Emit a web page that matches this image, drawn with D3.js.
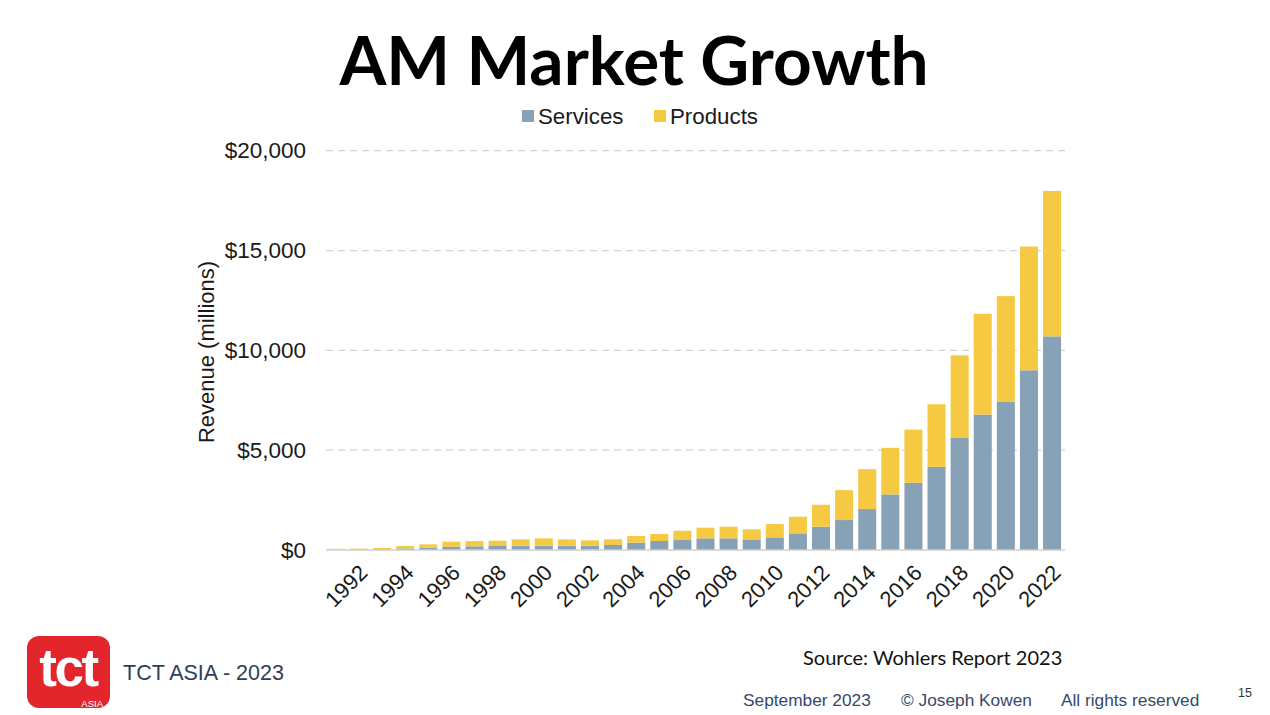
<!DOCTYPE html>
<html>
<head>
<meta charset="utf-8">
<script src="https://cdn.jsdelivr.net/npm/d3@7"></script>
<style>
  html, body { margin: 0; padding: 0; background: #ffffff; }
  svg { display: block; }
</style>
</head>
<body>
<svg id="chart" width="1270" height="715"></svg>
<script>
// ---- data ----
const years = d3.range(1991, 2023).map(String);
const services = [20, 25, 40, 80, 117, 167, 183, 200, 217, 217, 217, 217, 250, 367, 450, 500,
                  583, 583, 500, 633, 833, 1167, 1500, 2050, 2783, 3367, 4167, 5633, 6783, 7417, 9000, 10700];
const products = [40, 45, 60, 120, 165, 250, 265, 265, 315, 365, 315, 265, 285, 335, 350, 465,
                  535, 585, 535, 665, 835, 1100, 1500, 2000, 2335, 2665, 3135, 4115, 5050, 5300, 6200, 7285];
const seriesNames = ["Services", "Products"];
const yTicks = [0, 5000, 10000, 15000, 20000];
const xTickLabels = years.filter(y => +y % 2 === 0);

const colors = { Services: "#87a1b6", Products: "#f5ca42" };

const svg = d3.select("#chart");

// ---- title ----
svg.append("text")
  .attr("x", 634).attr("y", 85)
  .attr("text-anchor", "middle")
  .attr("font-family", "Lato, 'Open Sans', sans-serif")
  .attr("font-weight", 700)
  .attr("font-size", 67.5)
  .attr("fill", "#000")
  .text("AM Market Growth");

// ---- scales ----
const x = d3.scaleBand().domain(years).range([324.3, 1063.6]).paddingInner(0.22).paddingOuter(0.11);
const y = d3.scaleLinear().domain([0, 20000]).range([550, 150.7]);

const table = years.map((yr, i) => ({ year: yr, Services: services[i], Products: products[i] }));
const stacked = d3.stack().keys(seriesNames)(table);

// ---- gridlines ----
svg.append("g")
  .selectAll("line")
  .data(yTicks.filter(d => d > 0))
  .join("line")
  .attr("x1", 326).attr("x2", 1065)
  .attr("y1", d => y(d)).attr("y2", d => y(d))
  .attr("stroke", "#d3d3d3")
  .attr("stroke-width", 1.2)
  .attr("stroke-dasharray", "7,5");

// ---- bars ----
svg.append("g")
  .selectAll("g")
  .data(stacked)
  .join("g")
  .attr("fill", d => colors[d.key])
  .selectAll("rect")
  .data(d => d)
  .join("rect")
  .attr("x", d => x(d.data.year))
  .attr("width", x.bandwidth())
  .attr("y", d => y(d[1]))
  .attr("height", d => y(d[0]) - y(d[1]));

// ---- baseline ----
svg.append("line")
  .attr("x1", 326).attr("x2", 1065)
  .attr("y1", y(0)).attr("y2", y(0))
  .attr("stroke", "#d0d0d0").attr("stroke-width", 1.3);

// ---- y axis ----
const yAxis = d3.axisLeft(y)
  .tickValues(yTicks)
  .tickSize(0)
  .tickPadding(0)
  .tickFormat(d => "$" + d3.format(",")(d));
const yg = svg.append("g").attr("transform", "translate(306,0)").call(yAxis);
yg.select(".domain").remove();
yg.selectAll("text")
  .attr("font-family", "'Liberation Sans', Arial, sans-serif")
  .attr("font-size", 22.5)
  .attr("fill", "#1a1a1a");

svg.append("text")
  .attr("transform", "translate(214,352) rotate(-90)")
  .attr("text-anchor", "middle")
  .attr("font-family", "'Liberation Sans', Arial, sans-serif")
  .attr("font-size", 22)
  .attr("fill", "#1a1a1a")
  .text("Revenue (millions)");

// ---- x axis ----
const xAxis = d3.axisBottom(x)
  .tickValues(xTickLabels)
  .tickSize(0)
  .tickPadding(0);
const xg = svg.append("g").attr("transform", "translate(0,565)").call(xAxis);
xg.select(".domain").remove();
xg.selectAll("text")
  .attr("font-family", "'Liberation Sans', Arial, sans-serif")
  .attr("font-size", 22)
  .attr("fill", "#1a1a1a")
  .attr("text-anchor", "end")
  .attr("dy", 0)
  .attr("y", 0)
  .attr("transform", "translate(10,9) rotate(-45)");

// ---- legend ----
const legendItems = [
  { name: "Services", x: 522 },
  { name: "Products", x: 654 }
];
const lg = svg.append("g");
lg.selectAll("rect")
  .data(legendItems)
  .join("rect")
  .attr("x", d => d.x).attr("y", 110)
  .attr("width", 12).attr("height", 12)
  .attr("fill", d => colors[d.name]);
lg.selectAll("text")
  .data(legendItems)
  .join("text")
  .attr("x", d => d.x + 16).attr("y", 124)
  .attr("font-family", "'Liberation Sans', Arial, sans-serif")
  .attr("font-size", 22.3)
  .attr("fill", "#1a1a1a")
  .text(d => d.name);

// ---- source ----
svg.append("text")
  .attr("x", 803).attr("y", 665)
  .attr("font-family", "Lato, 'Open Sans', sans-serif")
  .attr("font-size", 20)
  .attr("fill", "#111")
  .text("Source: Wohlers Report 2023");

// ---- footer ----
const footer = [
  { t: "September 2023", x: 743 },
  { t: "© Joseph Kowen", x: 901 },
  { t: "All rights reserved", x: 1061 }
];
svg.append("g").selectAll("text")
  .data(footer)
  .join("text")
  .attr("x", d => d.x).attr("y", 706)
  .attr("font-family", "'Liberation Sans', Arial, sans-serif")
  .attr("font-size", 17.3)
  .attr("fill", "#34496b")
  .text(d => d.t);

svg.append("text")
  .attr("x", 1238).attr("y", 697)
  .attr("font-family", "'Liberation Sans', Arial, sans-serif")
  .attr("font-size", 12.5)
  .attr("fill", "#333")
  .text("15");

// ---- TCT logo ----
const logo = svg.append("g");
logo.append("rect")
  .attr("x", 27).attr("y", 636).attr("width", 83).attr("height", 72)
  .attr("rx", 12).attr("fill", "#e2262c");
logo.append("text")
  .attr("x", 68).attr("y", 686)
  .attr("text-anchor", "middle")
  .attr("font-family", "'Liberation Sans', Arial, sans-serif")
  .attr("font-weight", 700)
  .attr("font-size", 53)
  .attr("letter-spacing", -2.5)
  .attr("fill", "#fff")
  .text("tct");
logo.append("text")
  .attr("x", 103).attr("y", 706.5)
  .attr("text-anchor", "end")
  .attr("font-family", "'Liberation Sans', Arial, sans-serif")
  .attr("font-size", 9.5)
  .attr("fill", "#fff")
  .text("ASIA");

svg.append("text")
  .attr("x", 123).attr("y", 680)
  .attr("font-family", "'Liberation Sans', Arial, sans-serif")
  .attr("font-size", 21.5)
  .attr("fill", "#2f3e58")
  .text("TCT ASIA - 2023");
</script>
</body>
</html>
